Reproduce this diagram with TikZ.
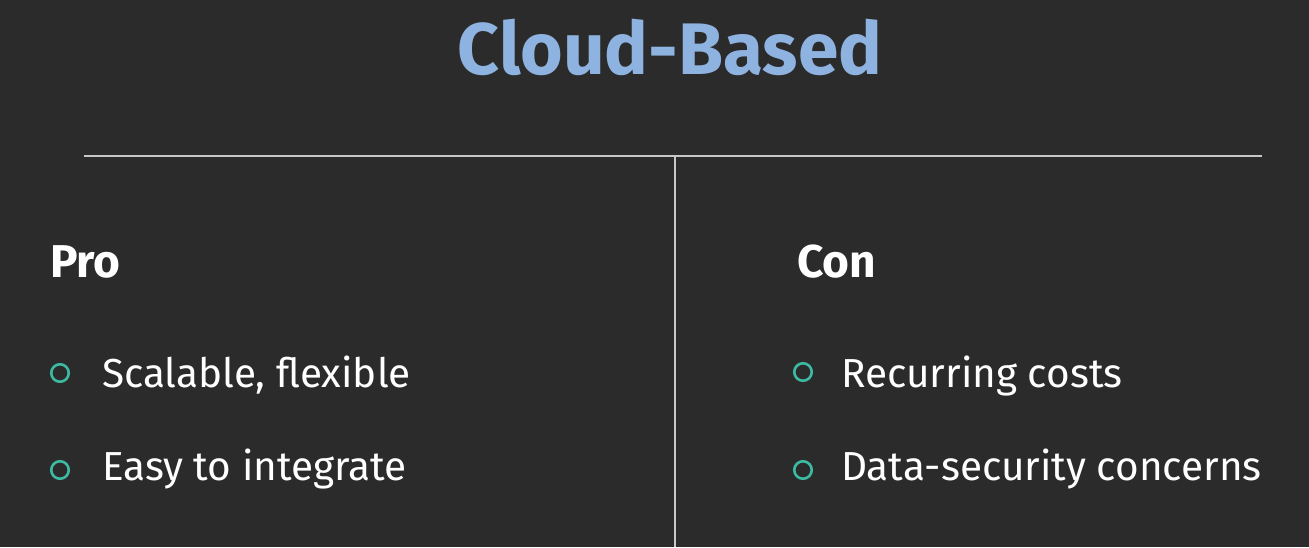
\documentclass[tikz,border=0pt]{standalone}
\usepackage{fontspec}
\setmainfont{Fira Sans}
\definecolor{bg}{HTML}{2B2B2B}
\definecolor{titleblue}{HTML}{8FB3E0}
\definecolor{rulegray}{HTML}{C8C8C8}
\definecolor{teal}{HTML}{3DBAA2}
\tikzset{
  title/.style={anchor=base, text=titleblue, font=\fontsize{73}{80}\selectfont\bfseries, inner sep=0pt},
  head/.style={anchor=base west, text=white, font=\fontsize{46}{52}\selectfont\bfseries, inner sep=0pt},
  item/.style={anchor=base west, text=white, font=\fontsize{40.5}{46}\selectfont, inner sep=0pt},
  bullet/.style={circle, draw=teal, line width=2.6pt, minimum size=17.5pt, inner sep=0pt},
  divider/.style={draw=rulegray, line width=1.5pt}
}
\begin{document}
\begin{tikzpicture}[x=1pt,y=-1pt]
\fill[bg] (0,0) rectangle (1309,547);
\useasboundingbox (0,0) rectangle (1309,547);
\node[title] (t) at (670,74) {Cloud-Based};
\coordinate (hl) at (84,156);
\coordinate (hr) at (1262,156);
\coordinate (vt) at (675,156);
\coordinate (vb) at (675,547);
\draw[divider] (hl) -- (hr);
\draw[divider] (vt) -- (vb);
\node[head] (pro) at (50,277) {Pro};
\node[head] (con) at (797,277) {Con};
\node[bullet] (b1) at (60,373) {};
\node[item] (i1) at (102,387) {Scalable, flexible};
\node[bullet] (b2) at (60,470) {};
\node[item] (i2) at (102,480) {Easy to integrate};
\node[bullet] (b3) at (803,372) {};
\node[item] (i3) at (841,387) {Recurring costs};
\node[bullet] (b4) at (803,470) {};
\node[item] (i4) at (841,480) {Data-security concerns};
\end{tikzpicture}
\end{document}
